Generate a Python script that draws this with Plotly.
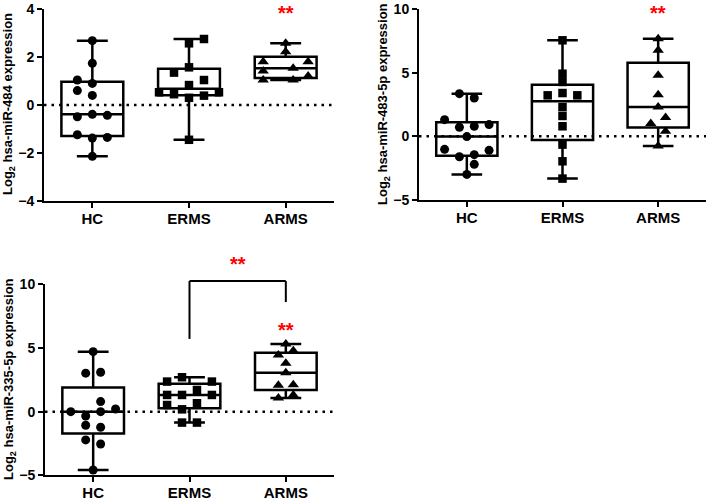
import numpy as np
import plotly.graph_objects as go

groups = ["HC", "ERMS", "ARMS"]

# ---- Panel 1: hsa-miR-484 ----
p1_hc = [2.68, 1.74, 1.04, 0.90, 0.60, 0.40, -0.49, -0.39, -0.43, -1.24, -1.38, -1.35, -2.14]
p1_hc_col = [0, 0, -1, 0, -1, 0, -1, 0, 1, -1, 0, 1, 0]
p1_erms = [2.75, 2.57, 1.57, 1.35, 1.04, 0.83, 0.53, 0.45, 0.30, 0.39, 0.53, -1.45]
p1_erms_col = [1, 0, 0, -1, 1, 0, -2, -1, 0, 1, 2, 0]
p1_arms = [1.80, 1.42, 1.04, 2.57, 2.22, 1.53, 1.80, 1.04, 1.21]
p1_arms_col = [-1.5, -1.5, -1.5, 0, 0, 0.5, 1.5, 0.5, 1.5]

# ---- Panel 2: hsa-miR-483-5p ----
p2_hc = [3.35, 3.01, 1.31, 0.71, 0.79, 0.92, -0.02, -1.02, -1.10, -1.60, -1.44, -2.20, -2.99]
p2_hc_col = [-0.5, 0.5, -1.5, -0.5, 0.5, 1.5, 0, -1.5, 1.5, -0.5, 0.5, 0.5, 0]
p2_erms = [7.54, 4.92, 4.27, 3.22, 3.40, 3.22, 2.30, 1.60, 0.79, -0.65, -1.96, -3.32]
p2_erms_col = [0, 0, 0, -1, 0, 1, 0, 0, 0, 0, 0, 0]
p2_arms = [7.67, 6.76, 4.79, 3.27, 2.30, 1.47, 1.00, 0.39, -0.76]
p2_arms_col = [0, 0, 0, 0, 0, 0.5, -0.5, 0.5, 0]

# ---- Panel 3: hsa-miR-335-5p ----
p3_hc = [4.71, 3.02, 3.09, 0.79, 0.00, -0.34, 0.00, 0.21, -1.07, -1.23, -2.22, -2.54, -4.58]
p3_hc_col = [0, -0.5, 0.5, 0.5, -1.5, -0.5, 0.5, 1.5, -0.5, 0.5, -0.5, 0.5, 0]
p3_erms = [2.70, 2.36, 2.36, 1.70, 1.31, 1.31, 1.31, 0.52, 0.66, 0.18, -0.86, -0.86]
p3_erms_col = [-0.5, -1.5, 1.5, 0.5, -1.5, -0.5, 1.5, -1.5, 0.5, -0.5, -0.5, 0.5]
p3_arms = [5.31, 4.45, 4.79, 3.80, 3.06, 2.07, 2.12, 1.07, 1.31]
p3_arms_col = [0, -0.5, 0.5, 0, 0, -0.5, 0.5, -0.5, 0.5]

y_titles = ["hsa-miR-484", "hsa-miR-483-5p", "hsa-miR-335-5p"]
y_ticks = [[-4, -2, 0, 2, 4], [-5, 0, 5, 10], [-5, 0, 5, 10]]

panels = [
    [(p1_hc, p1_hc_col), (p1_erms, p1_erms_col), (p1_arms, p1_arms_col)],
    [(p2_hc, p2_hc_col), (p2_erms, p2_erms_col), (p2_arms, p2_arms_col)],
    [(p3_hc, p3_hc_col), (p3_erms, p3_erms_col), (p3_arms, p3_arms_col)],
]

W, H = 708, 501
# pixel boxes of each plot area: (left, right, top, bottom)
areas = [(44, 334, 9, 201), (419, 706, 9, 200), (45, 334, 284.3, 475.3)]
title_pos = [(9, 104), (384, 104), (9, 379)]
symbols = ["circle", "square", "triangle-up"]
msizes = [9, 8.5, 10]
COL = 0.155

FONT = "Liberation Sans, Arial, sans-serif"

fig = go.Figure()
layout = dict(
    width=W, height=H, margin=dict(l=0, r=0, t=0, b=0, autoexpand=False),
    paper_bgcolor="white", plot_bgcolor="white", showlegend=False,
    font=dict(family=FONT, color="black"),
)
annotations = []
shapes = []

for i, panel in enumerate(panels):
    n = "" if i == 0 else str(i + 1)
    xa, ya = "x" + n, "y" + n
    for g, (vals, cols) in enumerate(panel):
        v = np.array(vals)
        q1, med, q3 = np.percentile(v, [25, 50, 75], method="weibull")
        fig.add_trace(go.Box(
            x=[g], q1=[q1], median=[med], q3=[q3],
            lowerfence=[v.min()], upperfence=[v.max()],
            width=0.64, whiskerwidth=0.5,
            line=dict(color="black", width=2.5),
            fillcolor="rgba(0,0,0,0)", boxpoints=False,
            xaxis=xa, yaxis=ya, hoverinfo="skip",
        ))
        fig.add_trace(go.Scatter(
            x=[g + c * COL for c in cols], y=vals, mode="markers",
            marker=dict(symbol=symbols[g], size=msizes[g], color="black",
                        line=dict(width=0)),
            xaxis=xa, yaxis=ya, hoverinfo="skip", cliponaxis=False,
        ))
    l, r, t, b = areas[i]
    ticks = y_ticks[i]
    axkey = "xaxis" + n
    aykey = "yaxis" + n
    layout[axkey] = dict(
        domain=[l / W, r / W], range=[-0.5, 2.5], anchor=ya, automargin=False,
        tickvals=[0, 1, 2], ticktext=groups, ticks="outside", ticklen=5,
        tickwidth=2, tickcolor="black", showline=True, linewidth=2,
        linecolor="black", showgrid=False, zeroline=False,
        ticklabelstandoff=-2,
        tickfont=dict(family=FONT, size=15, color="black", weight="bold"),
    )
    layout[aykey] = dict(
        domain=[1 - b / H, 1 - t / H], range=[ticks[0], ticks[-1]], anchor=xa,
        automargin=False,
        tickvals=ticks, ticks="outside", ticklen=5, tickwidth=2,
        tickcolor="black", showline=True, linewidth=2, linecolor="black",
        showgrid=False, zeroline=False,
        tickfont=dict(family=FONT, size=14, color="black", weight="bold"),
    )
    # dotted zero line
    shapes.append(dict(type="line", xref=xa + " domain", yref=ya,
                       x0=0, x1=1, y0=0, y1=0, layer="below",
                       line=dict(color="black", width=2.5, dash="2.5px,5px")))
    tx, ty = title_pos[i]
    annotations.append(dict(
        text="Log<sub>2</sub> " + y_titles[i] + " expression",
        xref="paper", yref="paper", x=tx / W, y=1 - ty / H,
        textangle=-90, showarrow=False, xanchor="center", yanchor="middle",
        font=dict(family=FONT, size=13, color="black", weight="bold"),
    ))

STAR = dict(family=FONT, size=20, color="#ff0000", weight="bold")
star_pos = [("x", "y", 0.8333, 1.01, "middle"), ("x2", "paper", 0.8333, 1.0, "top"),
            ("x3", "y3", 0.8333, 0.79, "middle"), ("x3", "y3", 0.6667, 1.14, "middle")]
for xa, ya, fx, fy, anc in star_pos:
    yref = "paper" if ya == "paper" else ya + " domain"
    annotations.append(dict(text="**", xref=xa + " domain", yref=yref,
                            x=fx, y=fy, showarrow=False, xanchor="center",
                            yanchor=anc, yshift=-6 if anc == "middle" else 0,
                            font=STAR))

# significance bracket ERMS-ARMS in panel 3
br = [(0.5, 0.714, 0.5, 1.017), (0.5, 1.017, 0.8333, 1.017), (0.8333, 1.017, 0.8333, 0.907)]
for x0, y0, x1, y1 in br:
    shapes.append(dict(type="line", xref="x3 domain", yref="y3 domain",
                       x0=x0, y0=y0, x1=x1, y1=y1,
                       line=dict(color="black", width=2)))

layout["annotations"] = annotations
layout["shapes"] = shapes
fig.update_layout(**layout)
fig.write_html("out.html", config={"displayModeBar": False},
               post_script="document.body.style.margin='0';document.body.style.padding='0';")
